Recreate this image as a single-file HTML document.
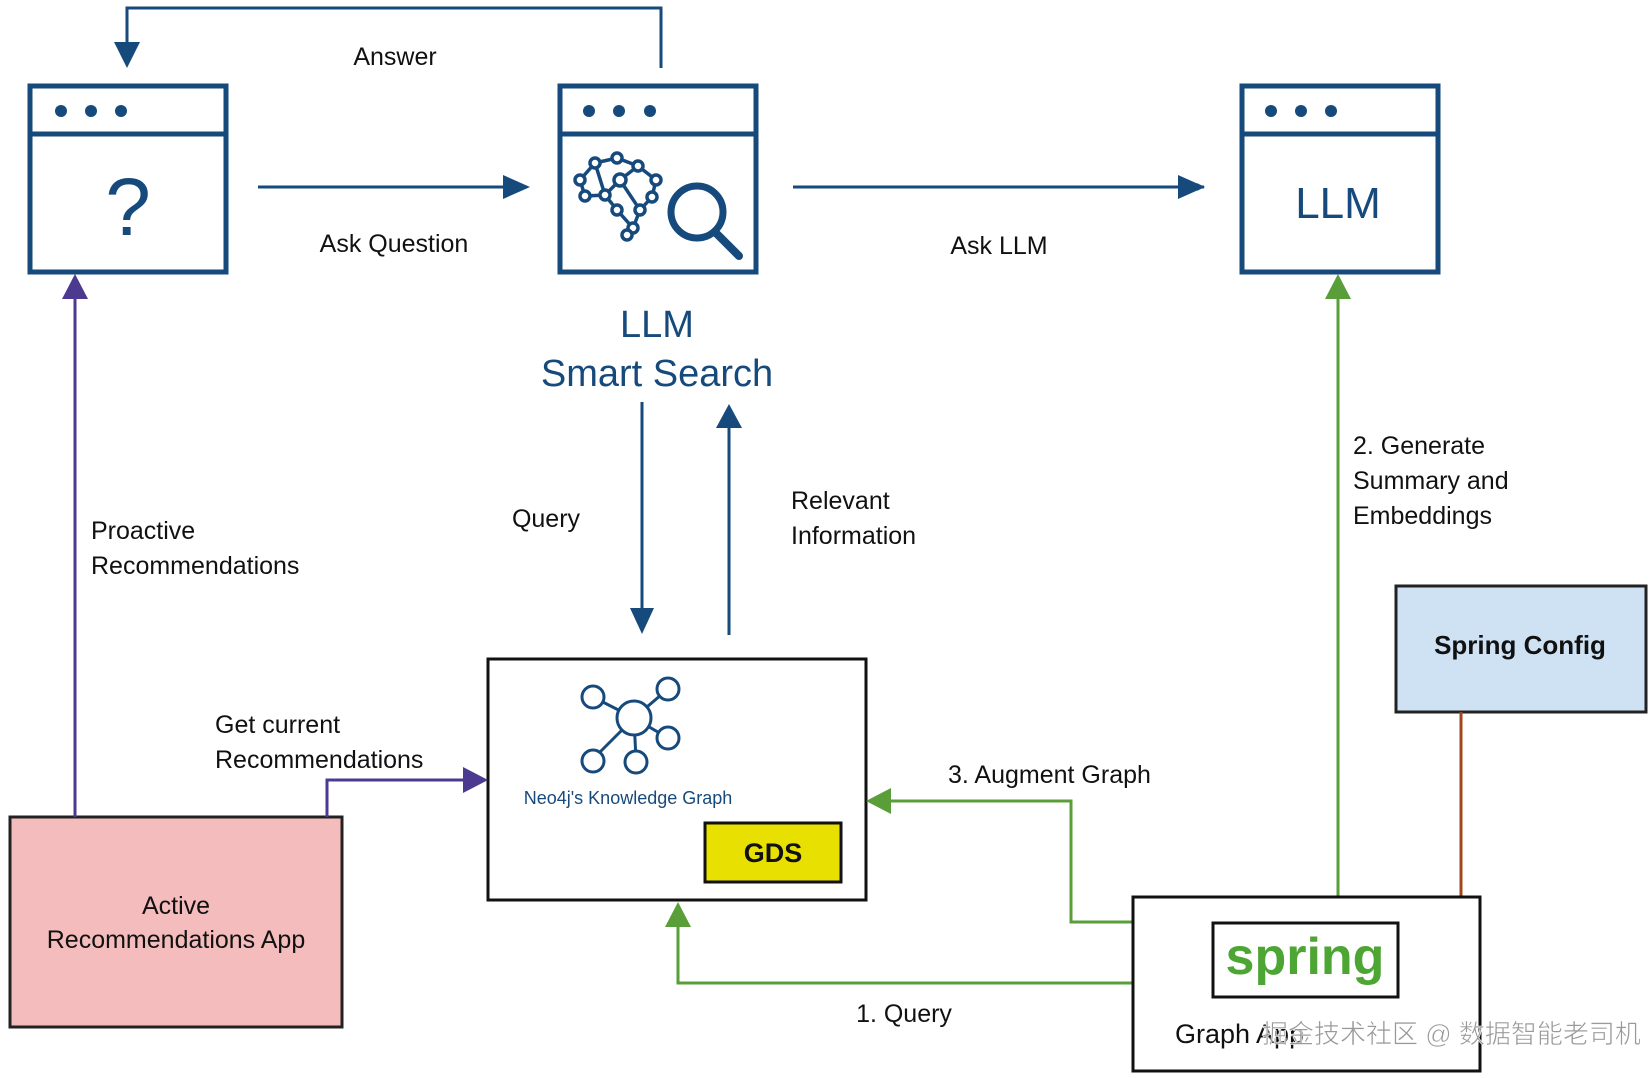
<!DOCTYPE html>
<html><head><meta charset="utf-8"><style>
html,body{margin:0;padding:0;background:#fff;}
svg{display:block;}
text{font-family:"Liberation Sans","Noto Sans CJK SC",sans-serif;}
</style></head><body>
<svg width="1650" height="1078" viewBox="0 0 1650 1078" xmlns="http://www.w3.org/2000/svg">
<defs>
<marker id="ab" viewBox="0 0 10 10" refX="9" refY="5" markerWidth="8" markerHeight="8" markerUnits="userSpaceOnUse"><path d="M0,0L10,5L0,10z" fill="#174a7c"/></marker>
</defs>
<g fill="none" stroke="#174a7c" stroke-width="5">
<rect x="30" y="86" width="196" height="186"/><line x1="30" y1="134" x2="226" y2="134"/>
<rect x="560" y="86" width="196" height="186"/><line x1="560" y1="134" x2="756" y2="134"/>
<rect x="1242" y="86" width="196" height="186"/><line x1="1242" y1="134" x2="1438" y2="134"/>
</g>
<g fill="#174a7c">
<circle cx="61" cy="111" r="6"/><circle cx="91" cy="111" r="6"/><circle cx="121" cy="111" r="6"/>
<circle cx="589" cy="111" r="6"/><circle cx="619" cy="111" r="6"/><circle cx="650" cy="111" r="6"/>
<circle cx="1271" cy="111" r="6"/><circle cx="1301" cy="111" r="6"/><circle cx="1331" cy="111" r="6"/>
</g>
<text x="128" y="235" font-size="82" fill="#174a7c" text-anchor="middle" font-weight="300">?</text>
<text x="1338" y="218" font-size="44" fill="#174a7c" text-anchor="middle">LLM</text>
<!-- brain + magnifier -->
<g stroke="#174a7c" stroke-width="3.5" fill="#fff">
<path d="M580,180L595,163L617,158L638,166L656,180L652,197L640,210L633,228L627,235M580,180L585,196L605,195L620,180L638,166M605,195L617,210L633,228M620,180L640,210M595,163L605,195" fill="none"/>
<circle cx="580" cy="180" r="5"/><circle cx="595" cy="163" r="5"/><circle cx="617" cy="158" r="5"/><circle cx="638" cy="166" r="5"/><circle cx="656" cy="180" r="5"/><circle cx="652" cy="197" r="5"/><circle cx="620" cy="180" r="6"/><circle cx="605" cy="195" r="5"/><circle cx="585" cy="196" r="5"/><circle cx="617" cy="210" r="5"/><circle cx="640" cy="210" r="5"/><circle cx="633" cy="228" r="5"/><circle cx="627" cy="235" r="5"/>
<circle cx="697" cy="212" r="26" stroke-width="7"/>
<line x1="715" y1="232" x2="739" y2="256" stroke-width="8" stroke-linecap="round"/>
</g>
<!-- top connectors -->
<g stroke="#174a7c" stroke-width="3" fill="none">
<line x1="258" y1="187" x2="527" y2="187" marker-end="url(#ab)"/>
<line x1="793" y1="187" x2="1204" y2="187" marker-end="url(#ab)"/>
<polyline points="661,68 661,8 127,8 127,45"/>
<line x1="642" y1="402" x2="642" y2="612"/>
<line x1="729" y1="635" x2="729" y2="425"/>
</g>
<g fill="#174a7c">
<path d="M503,175L530,187L503,199z"/><path d="M1178,175L1205,187L1178,199z"/>
<path d="M114,42L127,68L140,42z"/>
<path d="M630,608L642,634L654,608z"/>
<path d="M716,428L729,404L742,428z"/>
</g>
<text x="395" y="65" font-size="25" text-anchor="middle" fill="#111">Answer</text>
<text x="394" y="252" font-size="25" text-anchor="middle" fill="#111">Ask Question</text>
<text x="999" y="254" font-size="25" text-anchor="middle" fill="#111">Ask LLM</text>
<text x="657" y="337" font-size="38" text-anchor="middle" fill="#174a7c">LLM</text>
<text x="657" y="386" font-size="38" text-anchor="middle" fill="#174a7c">Smart Search</text>
<text x="546" y="527" font-size="25" text-anchor="middle" fill="#111">Query</text>
<text x="791" y="509" font-size="25" fill="#111">Relevant</text>
<text x="791" y="544" font-size="25" fill="#111">Information</text>
<!-- Neo4j box -->
<rect x="488" y="659" width="378" height="241" fill="#fff" stroke="#111" stroke-width="3"/>
<g stroke="#174a7c" stroke-width="3" fill="#fff">
<path d="M593,697L634,718L668,689M634,718L668,738M634,718L593,759M634,718L636,760" fill="none"/>
<circle cx="593" cy="697" r="11"/><circle cx="668" cy="689" r="11"/><circle cx="668" cy="738" r="11"/><circle cx="593" cy="761" r="11"/><circle cx="636" cy="762" r="11"/>
<circle cx="634" cy="718" r="17"/>
</g>
<text x="628" y="804" font-size="18" text-anchor="middle" fill="#174a7c">Neo4j's Knowledge Graph</text>
<rect x="705" y="823" width="136" height="59" fill="#e8e000" stroke="#111" stroke-width="3"/>
<text x="773" y="862" font-size="27" font-weight="bold" text-anchor="middle" fill="#111">GDS</text>
<!-- Active app -->
<rect x="10" y="817" width="332" height="210" fill="#f4bcbc" stroke="#222" stroke-width="3"/>
<text x="176" y="914" font-size="25" text-anchor="middle" fill="#111">Active</text>
<text x="176" y="948" font-size="25" text-anchor="middle" fill="#111">Recommendations App</text>
<g stroke="#4b3a8f" stroke-width="3" fill="none">
<line x1="75" y1="817" x2="75" y2="296"/>
<polyline points="327,817 327,780 465,780"/>
</g>
<g fill="#4b3a8f"><path d="M62,299L75,274L88,299z"/><path d="M463,767L488,780L463,793z"/></g>
<text x="91" y="539" font-size="25" fill="#111">Proactive</text>
<text x="91" y="574" font-size="25" fill="#111">Recommendations</text>
<text x="215" y="733" font-size="25" fill="#111">Get current</text>
<text x="215" y="768" font-size="25" fill="#111">Recommendations</text>
<!-- Spring config -->
<rect x="1396" y="586" width="250" height="126" fill="#cfe2f3" stroke="#222" stroke-width="3"/>
<text x="1520" y="654" font-size="26" font-weight="bold" text-anchor="middle" fill="#111">Spring Config</text>
<line x1="1461" y1="712" x2="1461" y2="896" stroke="#a0461d" stroke-width="3"/>
<!-- green connectors -->
<g stroke="#5a9e3a" stroke-width="3" fill="none">
<line x1="1338" y1="896" x2="1338" y2="296"/>
<polyline points="1132,922 1071,922 1071,801 890,801"/>
<polyline points="1132,983 678,983 678,925"/>
</g>
<g fill="#5a9e3a">
<path d="M1325,299L1338,274L1351,299z"/>
<path d="M891,788L866,801L891,814z"/>
<path d="M665,927L678,902L691,927z"/>
</g>
<text x="1353" y="454" font-size="25" fill="#111">2. Generate</text>
<text x="1353" y="489" font-size="25" fill="#111">Summary and</text>
<text x="1353" y="524" font-size="25" fill="#111">Embeddings</text>
<text x="948" y="783" font-size="25" fill="#111">3.  Augment Graph</text>
<text x="904" y="1022" font-size="25" text-anchor="middle" fill="#111">1. Query</text>
<!-- Graph app -->
<rect x="1133" y="897" width="347" height="174" fill="#fff" stroke="#111" stroke-width="3"/>
<rect x="1213" y="923" width="185" height="74" fill="#fff" stroke="#111" stroke-width="3"/>
<text x="1305" y="974" font-size="52" font-weight="bold" text-anchor="middle" fill="#4da534">spring</text>
<text x="1175" y="1043" font-size="27" fill="#111">Graph App</text>
<text x="1262" y="1043" font-size="26" fill="#999" stroke="#fff" stroke-width="0.6">掘金技术社区 @ 数据智能老司机</text>
</svg>
</body></html>
